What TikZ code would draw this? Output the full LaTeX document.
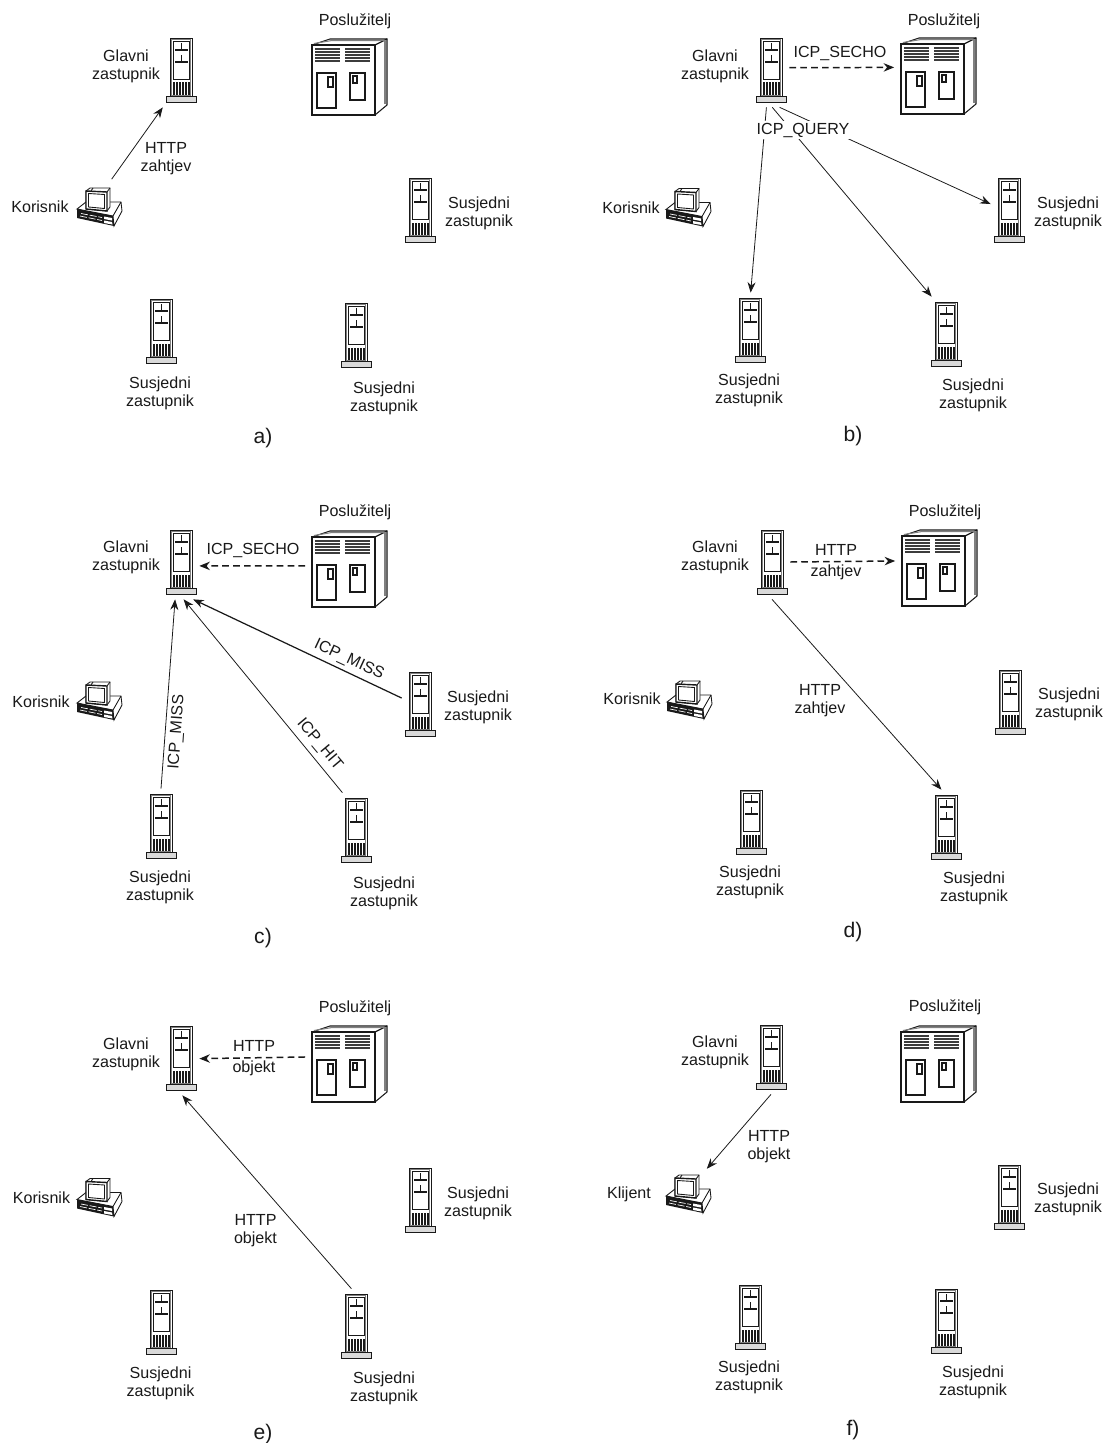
\documentclass[tikz,border=0pt]{standalone}
\usepackage{fontspec}
\setmainfont{Liberation Sans}
\usetikzlibrary{arrows.meta}

\definecolor{ink}{gray}{0.1}

\tikzset{
    lbl/.style={align=center, inner sep=0pt, text=ink, font=\fontsize{9.15}{10.25}\selectfont},
    panelcap/.style={inner sep=0pt, text=ink, font=\fontsize{12}{14}\selectfont},
    link/.style={draw=ink, line width=0.45pt, -{Stealth[length=6pt,width=4.6pt]}},
    dashlink/.style={draw=ink, line width=0.85pt, dash pattern=on 3.8pt off 2.4pt, -{Stealth[length=6pt,width=4.8pt]}},
    towerbox/.style={rectangle, inner sep=0pt, minimum width=0.72cm, minimum height=1.48cm},
    serverbox/.style={rectangle, inner sep=0pt, minimum width=1.76cm, minimum height=1.52cm},
    pcbox/.style={rectangle, inner sep=0pt, minimum width=1.08cm, minimum height=1.08cm},
    towerpic/.pic={
        \draw[ink, line width=0.55pt, fill=white] (-11,0) rectangle (11,58);
        \draw[gray, line width=0.5pt] (-9.5,1.5) rectangle (9.5,57);
        \draw[ink, line width=0.5pt] (-8,3) rectangle (8,41);
        \foreach \k in {-8,-5,-2,1,4,7}
            \fill[ink] (\k,44.5) rectangle (\k+1.6,57);
        \draw[ink, line width=0.5pt, fill=gray!30] (-15,58) rectangle (15,64);
        \foreach \k in {11,23} {
            \draw[ink, line width=0.5pt] (0,\k-6) -- (0,\k);
            \draw[ink, line width=0.4pt, fill=gray] (-6,\k) rectangle (6,\k+1.8);
        }
    },
    serverpic/.pic={
        \draw[ink, line width=0.6pt, fill=white] (0,6) -- (18,0) -- (75,0) -- (75,66) -- (63,76) -- (0,76) -- cycle;
        \draw[ink, line width=0.9pt] (0,6) rectangle (63,76);
        \draw[ink, line width=0.7pt] (63,6) -- (75,0);
        \draw[gray, line width=0.6pt] (2,4.5) -- (20,1.5) -- (73,1.5);
        \draw[gray, line width=0.8pt] (73,2) -- (73,65);
        \foreach \k in {0,1,2,3,4} {
            \fill[ink!85] (3,9+3*\k) rectangle (28,10.9+3*\k);
            \fill[ink!85] (33,9+3*\k) rectangle (58,10.9+3*\k);
        }
        \draw[ink, line width=0.7pt] (5,34) rectangle (24,69);
        \draw[ink, line width=0.7pt] (16,38) rectangle (21,48);
        \draw[ink, line width=0.7pt] (38,34) rectangle (53,61);
        \draw[ink, line width=0.7pt] (41,37) rectangle (45,44);
    },
    pcpic/.pic={
        \draw[ink, line width=0.5pt, fill=white] (0,22) -- (9,15) -- (44,15) -- (45,24) -- (37,39) -- (36,29) -- cycle;
        \draw[ink, line width=0.5pt] (36,29) -- (44,15);
        \fill[ink] (0,22) -- (36,29) -- (37,39) -- (0,31) -- cycle;
        \draw[white, line width=0.4pt, dash pattern=on 4pt off 1pt] (4,26.5) -- (25,30.5);
        \draw[white, line width=0.4pt, dash pattern=on 4pt off 1pt] (3,29) -- (25,33.5);
        \fill[white] (27,29.5) -- (35,31) -- (35,33.5) -- (27,32) -- cycle;
        \fill[white] (27,33.5) -- (35,35) -- (35.5,37.5) -- (27,36) -- cycle;
        \draw[ink, line width=0.5pt, fill=white] (13,1) -- (33,1) -- (33,20) -- (30,24) -- (9,22) -- (9,4) -- cycle;
        \draw[ink, line width=0.5pt] (16,1) -- (14,4) (30,5) -- (33,1);
        \draw[ink, line width=0.8pt, fill=white] (9,4) -- (30,5) -- (30,24) -- (9,22) -- cycle;
        \draw[ink, line width=0.5pt] (11.5,6.5) -- (27.5,7.5) -- (27.5,21.5) -- (11.5,20) -- cycle;
    },
}

\begin{document}
\begin{tikzpicture}[x=0.02cm, y=-0.02cm]

    \useasboundingbox (0,0) rectangle (1104,1443);

    % towers: top centre of each one
    \foreach \nm/\x/\y in {aMain/181/38, aRight/420/178, aLeft/161/299, aMid/356/303,
                           bMain/771/38, bRight/1009/178, bLeft/750/298, bMid/946/302,
                           cMain/181/530, cRight/420/672, cLeft/161/794, cMid/356/798,
                           dMain/772/530, dRight/1010/670, dLeft/751/790, dMid/946/795,
                           eMain/181/1026, eRight/420/1168, eLeft/161/1290, eMid/356/1294,
                           fMain/771/1025, fRight/1009/1165, fLeft/750/1285, fMid/946/1289} {
        \node[towerbox] (\nm) at (\x,\y+32) {};
        \pic at (\x,\y) {towerpic};
    }

    % servers: left edge and top
    \foreach \nm/\x/\y in {aServer/312/39, bServer/901/38, cServer/312/531,
                           dServer/902/530, eServer/312/1026, fServer/901/1026} {
        \node[serverbox] (\nm) at (\x+37.5,\y+38) {};
        \pic at (\x,\y) {serverpic};
    }

    % user machines
    \foreach \nm/\x/\y in {aPc/77/187, bPc/666/187.5, cPc/77/681,
                           dPc/667/680, ePc/77/1177.5, fPc/666/1174} {
        \node[pcbox] (\nm) at (\x+22.5,\y+19.5) {};
        \pic at (\x,\y) {pcpic};
    }

    % a)
    \node[lbl] (aGlavni) at (126,66) {Glavni\\zastupnik};
    \node[lbl] (aPosl) at (355,21) {Poslužitelj};
    \node[lbl] (aKor) at (40,207) {Korisnik};
    \node[lbl] (aSusR) at (479,213) {Susjedni\\zastupnik};
    \node[lbl] (aSusL) at (160,393) {Susjedni\\zastupnik};
    \node[lbl] (aSusM) at (384,398) {Susjedni\\zastupnik};
    \node[lbl] (aHttp) at (166,159) {HTTP\\zahtjev};
    \node[panelcap] (aCap) at (263,438) {a)};
    \draw[link] (aPc.66) -- (aMain.-116);

    % b)
    \node[lbl] (bGlavni) at (715,66) {Glavni\\zastupnik};
    \node[lbl] (bPosl) at (944,21) {Poslužitelj};
    \node[lbl] (bKor) at (631,208) {Korisnik};
    \node[lbl] (bSusR) at (1068,213) {Susjedni\\zastupnik};
    \node[lbl] (bSusL) at (749,390.5) {Susjedni\\zastupnik};
    \node[lbl] (bSusM) at (973,395.5) {Susjedni\\zastupnik};
    \node[lbl] (bSecho) at (840,53) {ICP\_SECHO};
    \node[panelcap] (bCap) at (853,436) {b)};
    \draw[dashlink] (bMain.7) -- (bServer.169);
    \draw[link] (bMain.-97) -- (bLeft.89);
    \draw[link] (bMain.-88) -- (bMid.111);
    \draw[link] (bMain.-77) -- (bRight.162);
    \node[lbl, fill=white, inner sep=1pt] (bQuery) at (803,130) {ICP\_QUERY};

    % c)
    \node[lbl] (cGlavni) at (126,557.5) {Glavni\\zastupnik};
    \node[lbl] (cPosl) at (355,512) {Poslužitelj};
    \node[lbl] (cKor) at (41,702) {Korisnik};
    \node[lbl] (cSusR) at (478,707) {Susjedni\\zastupnik};
    \node[lbl] (cSusL) at (160,887.5) {Susjedni\\zastupnik};
    \node[lbl] (cSusM) at (384,893) {Susjedni\\zastupnik};
    \node[lbl] (cSecho) at (253,550) {ICP\_SECHO};
    \node[lbl, rotate=86] (cMissL) at (177,732) {ICP\_MISS};
    \node[lbl, rotate=-50] (cHit) at (319.5,744.5) {ICP\_HIT};
    \node[lbl, rotate=-25] (cMissR) at (349,660) {ICP\_MISS};
    \node[panelcap] (cCap) at (263,938) {c)};
    \draw[dashlink] (cServer.176) -- (cMain.-12);
    \draw[link] (cLeft.90) -- (cMain.-99);
    \draw[link] (cMid.110) -- (cMain.-86);
    \draw[link, line width=0.7pt] (cRight.162) -- (cMain.-72);

    % d)
    \node[lbl] (dGlavni) at (715,557.5) {Glavni\\zastupnik};
    \node[lbl] (dPosl) at (945,512) {Poslužitelj};
    \node[lbl] (dKor) at (632,699) {Korisnik};
    \node[lbl] (dSusR) at (1069,704.5) {Susjedni\\zastupnik};
    \node[lbl] (dSusL) at (750,882.5) {Susjedni\\zastupnik};
    \node[lbl] (dSusM) at (974,888) {Susjedni\\zastupnik};
    \node[lbl] (dHttpA) at (836,562) {HTTP\\[1.6pt]zahtjev};
    \node[lbl] (dHttpB) at (820,701) {HTTP\\zahtjev};
    \node[panelcap] (dCap) at (853,932) {d)};
    \draw[dashlink] (dMain.0) -- (dServer.171.5);
    \draw[link] (dMain.-90) -- (dMid.97);

    % e)
    \node[lbl] (eGlavni) at (126,1054) {Glavni\\zastupnik};
    \node[lbl] (ePosl) at (355,1008) {Poslužitelj};
    \node[lbl] (eKor) at (41.5,1198) {Korisnik};
    \node[lbl] (eSusR) at (478,1203) {Susjedni\\zastupnik};
    \node[lbl] (eSusL) at (160.5,1383.5) {Susjedni\\zastupnik};
    \node[lbl] (eSusM) at (384,1388.5) {Susjedni\\zastupnik};
    \node[lbl] (eHttpA) at (254,1058.5) {HTTP\\[1.6pt]objekt};
    \node[lbl] (eHttpB) at (255.5,1230.5) {HTTP\\objekt};
    \node[panelcap] (eCap) at (263,1434) {e)};
    \draw[dashlink] (eServer.171.5) -- (eMain.-2);
    \draw[link] (eMid.97) -- (eMain.-88);

    % f)
    \node[lbl] (fGlavni) at (715,1052.5) {Glavni\\zastupnik};
    \node[lbl] (fPosl) at (945,1007) {Poslužitelj};
    \node[lbl] (fKli) at (629,1194) {Klijent};
    \node[lbl] (fSusR) at (1068,1199.5) {Susjedni\\zastupnik};
    \node[lbl] (fSusL) at (749,1377.5) {Susjedni\\zastupnik};
    \node[lbl] (fSusM) at (973,1382.5) {Susjedni\\zastupnik};
    \node[lbl] (fHttp) at (769,1147) {HTTP\\objekt};
    \node[panelcap] (fCap) at (853,1430) {f)};
    \draw[link, shorten >=-2pt] (fMain.-90) -- (fPc.53);

\end{tikzpicture}
\end{document}
